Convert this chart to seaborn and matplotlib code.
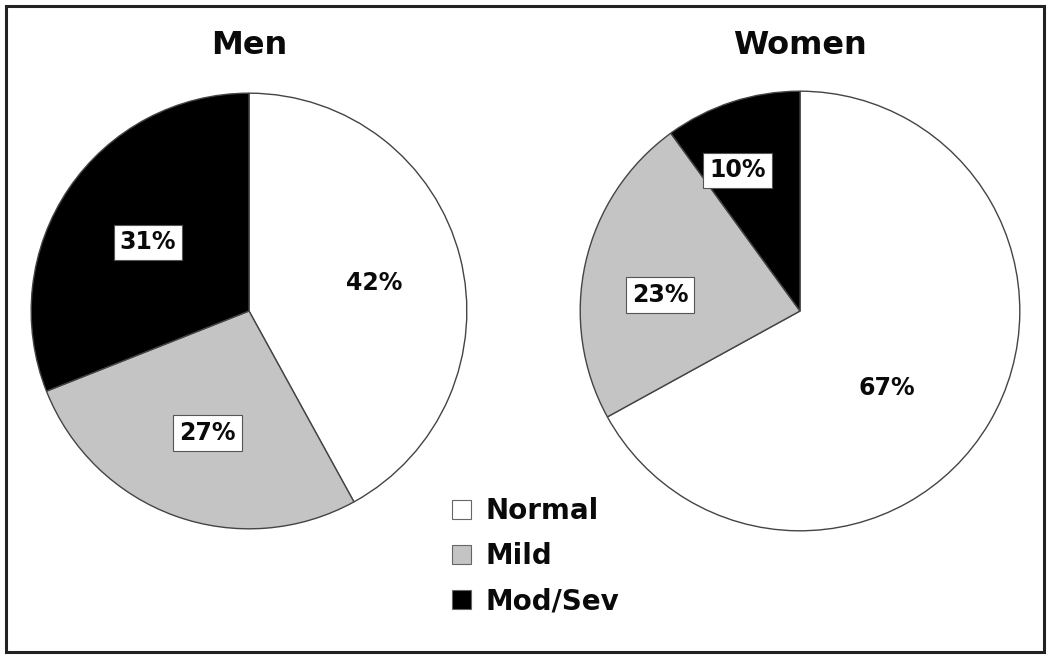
import numpy as np
import seaborn as sns
import matplotlib.pyplot as plt
from matplotlib.patches import Patch, Rectangle

sns.set_theme(style="white")
plt.rcParams['font.family'] = ['DejaVu Sans']

categories = ['Normal', 'Mild', 'Mod/Sev']
groups = ['Men', 'Women']
men_pct = [42, 27, 31]
women_pct = [67, 23, 10]
colors = ['#ffffff', '#c4c4c4', '#000000']

W, H = 1050, 658
fig = plt.figure(figsize=(W / 100, H / 100), dpi=100)
fig.patch.set_facecolor('white')

# outer frame
fig.add_artist(Rectangle((6 / W, 6 / H), 1 - 12 / W, 1 - 12 / H,
                         transform=fig.transFigure, fill=False,
                         edgecolor='#222222', linewidth=2.2))


def pie_axes(cx, cy, r):
    return fig.add_axes([(cx - r) / W, (H - cy - r) / H, 2 * r / W, 2 * r / H])


# label placement (radius, angle offset in degrees) and whether boxed
layout = {
    'Men': [(0.59, -2, False), (0.59, 1, True), (0.56, 0, True)],
    'Women': [(0.53, -11, False), (0.64, 6, True), (0.70, 6, True)],
}

specs = [('Men', men_pct, 249, 311, 220), ('Women', women_pct, 800, 311, 222)]
for name, vals, cx, cy, r in specs:
    ax = pie_axes(cx, cy, r)
    ax.pie(vals, colors=colors, startangle=90, counterclock=False, radius=1,
           wedgeprops=dict(edgecolor='#444444', linewidth=1.0))
    ax.set_xlim(-1.01, 1.01)
    ax.set_ylim(-1.01, 1.01)
    ax.set_aspect('equal')
    ax.axis('off')
    total = sum(vals)
    start = 90.0
    for v, (rad, off, boxed) in zip(vals, layout[name]):
        mid = start - v / total * 180.0
        start -= v / total * 360.0
        a = np.deg2rad(mid + off)
        kw = dict(ha='center', va='center', fontsize=17, fontweight='heavy',
                  color='#0a0a0a')
        if boxed:
            kw['bbox'] = dict(boxstyle='square,pad=0.25', facecolor='white',
                              edgecolor='#555555', linewidth=0.8)
        ax.text(rad * np.cos(a), rad * np.sin(a), f'{v}%', **kw)
    fig.text(cx / W, 1 - 46 / H, name, ha='center', va='center',
             fontsize=23, fontweight='heavy', color='#0a0a0a')

handles = [Patch(facecolor=c, edgecolor='#666666', linewidth=0.8) for c in colors]
fig.legend(handles, categories, loc='upper left',
           bbox_to_anchor=(427 / W, 1 - 472 / H), frameon=False,
           prop=dict(size=20, weight='heavy'), handlelength=0.7,
           handleheight=0.7, handletextpad=0.5, labelspacing=0.62,
           labelcolor='#0a0a0a')

fig.savefig('out.png', dpi=100)
